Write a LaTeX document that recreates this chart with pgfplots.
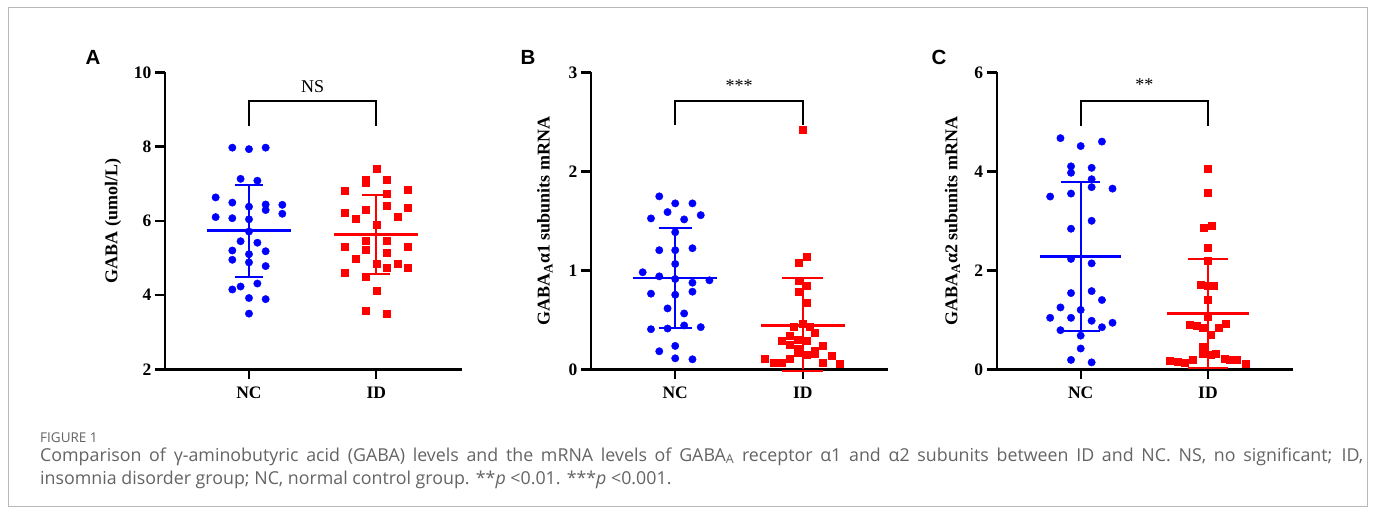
\documentclass[border=0pt]{standalone}
\usepackage{pgfplots}
\pgfplotsset{compat=1.18}
\usepackage{fontspec}
\setmainfont{Liberation Serif}
\newfontfamily\arialfont{Liberation Sans}
\newfontfamily\capfont{Open Sans}
\definecolor{ptblue}{RGB}{0,0,255}
\definecolor{ptred}{RGB}{255,0,0}
\definecolor{capgray}{RGB}{100,100,100}

\pgfplotsset{
  dotplot/.style={
    scale only axis,
    anchor=south west,
    height=297pt, width=296.5pt,
    axis lines=left,
    axis line style={line width=2.4pt, -},
    tick style={line width=2.4pt, black},
    major tick length=10pt,
    tick align=outside,
    xmin=-0.66, xmax=1.67,
    xtick={0,1}, xticklabels={NC,ID},
    ticklabel style={font=\bfseries\fontsize{17.5}{17.5}\selectfont},
    xticklabel style={yshift=-4pt},
    /pgf/number format/assume math mode=true,
    ylabel style={font=\bfseries\fontsize{18}{18}\selectfont, anchor=center},
    clip=false,
  },
  nc/.style={only marks, mark=*, mark size=3.7pt, color=ptblue},
  id/.style={only marks, mark=square*, mark size=3.5pt, color=ptred},
  bar/.style={line width=2pt},
  meanl/.style={line width=2.8pt},
}

\begin{document}
\begin{tikzpicture}
\useasboundingbox (0,0) rectangle (1375pt,-513pt);
\fill[white] (0,0) rectangle (1375pt,-513pt);
\draw[black!28, line width=1pt] (8pt,-7.3pt) rectangle (1367pt,-506pt);

\node[font=\arialfont\bfseries\fontsize{20.5}{20.5}\selectfont] at (93pt,-57pt) {A};
\node[font=\arialfont\bfseries\fontsize{20.5}{20.5}\selectfont] at (528pt,-57pt) {B};
\node[font=\arialfont\bfseries\fontsize{20.5}{20.5}\selectfont] at (939pt,-57pt) {C};

% ---- A
\begin{axis}[dotplot, at={(165pt,-369.3pt)},
  ymin=2, ymax=10, ytick={2,4,6,8,10},
  ylabel={GABA (umol/L)},
  ylabel style={at={(axis description cs:-0.175,0.5)}}]
\addplot[nc] coordinates {
 (-0.131,7.97) (0,7.93) (0.131,7.97) (-0.066,7.13) (0.066,7.08)
 (-0.262,6.63) (-0.131,6.49) (0,6.38) (0.131,6.44) (0.131,6.29)
 (0.262,6.43) (0.262,6.19) (-0.262,6.10) (-0.131,6.07) (0,6.04)
 (0,5.71) (-0.066,5.45) (0.066,5.41) (-0.131,5.20) (0.131,5.18)
 (0,5.10) (-0.131,4.95) (0,4.88) (0.131,4.78) (-0.131,4.15)
 (-0.066,4.23) (0.066,4.31) (0,3.92) (0.131,3.89) (0,3.50)};
\addplot[id] coordinates {
 (1,7.41) (0.916,7.10) (0.916,7.03) (1.084,7.12) (0.75,6.80)
 (1.25,6.84) (1.084,6.74) (1.084,6.41) (1.25,6.36) (0.75,6.23)
 (0.916,6.31) (0.835,6.06) (1.168,6.10) (1,5.89) (0.916,5.47)
 (1.084,5.47) (0.75,5.31) (1.25,5.29) (0.916,5.23) (1.084,5.15)
 (0.835,4.98) (1,4.84) (1.084,4.73) (1.168,4.84) (1.25,4.74)
 (0.75,4.60) (0.916,4.50) (1,4.12) (0.916,3.57) (1.084,3.49)};
% mean and SD
\addplot[ptblue, meanl] coordinates {(-0.33,5.73) (0.33,5.73)};
\addplot[ptblue, bar] coordinates {(0,4.49) (0,6.96)};
\addplot[ptblue, bar] coordinates {(-0.11,6.96) (0.11,6.96)};
\addplot[ptblue, bar] coordinates {(-0.11,4.49) (0.11,4.49)};
\addplot[ptred, meanl] coordinates {(0.67,5.63) (1.33,5.63)};
\addplot[ptred, bar] coordinates {(1,4.56) (1,6.70)};
\addplot[ptred, bar] coordinates {(0.89,6.70) (1.11,6.70)};
\addplot[ptred, bar] coordinates {(0.89,4.56) (1.11,4.56)};
\draw[line width=2.4pt] (axis cs:0,8.55) -- (axis cs:0,9.23) -- (axis cs:1,9.23) -- (axis cs:1,8.55);
\node[font=\fontsize{18}{18}\selectfont] at (axis cs:0.5,9.62) {NS};
\end{axis}

% ---- B
\begin{axis}[dotplot, at={(591pt,-369.3pt)}, width=297.3pt,
  ymin=0, ymax=3, ytick={0,1,2,3},
  ylabel={GABA\raisebox{-0.35ex}{\fontsize{13}{13}\selectfont A}α1 subunits mRNA},
  ylabel style={at={(axis description cs:-0.155,0.5)}}]
\addplot[nc] coordinates {
 (-0.125,1.747) (0,1.676) (0.135,1.676) (-0.06,1.588) (-0.19,1.524)
 (0.07,1.514) (0.2,1.557) (0,1.385) (-0.125,1.203) (0,1.203)
 (0.135,1.223) (0,1.064) (-0.255,0.98) (-0.125,0.939) (0,0.912)
 (0.135,0.875) (0.268,0.899) (-0.19,0.764) (0,0.753) (0.135,0.784)
 (-0.06,0.615) (0.07,0.564) (-0.19,0.405) (-0.06,0.412) (0.07,0.443)
 (0.2,0.426) (-0.125,0.182) (0,0.236) (0,0.111) (0.135,0.101)};
\addplot[id] coordinates {
 (1,2.419) (1.03,1.135) (0.97,1.074) (0.97,0.898) (1.03,0.847)
 (0.97,0.78) (1.03,0.675) (0.93,0.426) (1.0,0.459) (1.055,0.432)
 (1.094,0.371) (0.898,0.337) (0.833,0.29) (0.963,0.304) (1.029,0.29)
 (0.898,0.246) (1.159,0.236) (0.963,0.213) (0.963,0.165) (1.029,0.152)
 (1.094,0.19) (1.094,0.16) (1.224,0.135) (0.703,0.111) (0.768,0.071)
 (0.833,0.071) (0.898,0.111) (1.159,0.067) (1.289,0.054)};
\addplot[ptblue, meanl] coordinates {(-0.33,0.922) (0.33,0.922)};
\addplot[ptblue, bar] coordinates {(0,0.42) (0,1.43)};
\addplot[ptblue, bar] coordinates {(-0.13,1.43) (0.13,1.43)};
\addplot[ptblue, bar] coordinates {(-0.13,0.42) (0.13,0.42)};
\addplot[ptred, meanl] coordinates {(0.67,0.439) (1.33,0.439)};
\addplot[ptred, bar] coordinates {(1,0) (1,0.922)};
\addplot[ptred, bar] coordinates {(0.84,0.922) (1.16,0.922)};
\addplot[ptred, bar] coordinates {(0.84,-0.015) (1.16,-0.015)};
\draw[line width=2.4pt] (axis cs:0,2.466) -- (axis cs:0,2.713) -- (axis cs:1,2.713) -- (axis cs:1,2.466);
\node[font=\fontsize{18}{18}\selectfont] at (axis cs:0.5,2.87) {***};
\end{axis}

% ---- C
\begin{axis}[dotplot, at={(996.7pt,-369.3pt)},
  ymin=0, ymax=6, ytick={0,2,4,6},
  ylabel={GABA\raisebox{-0.35ex}{\fontsize{13}{13}\selectfont A}α2 subunits mRNA},
  ylabel style={at={(axis description cs:-0.149,0.5)}}]
\addplot[nc] coordinates {
 (-0.159,4.67) (0.167,4.60) (0,4.51) (-0.076,4.10) (-0.076,3.97)
 (0.086,4.07) (0.086,3.84) (0.086,3.68) (0.25,3.65) (-0.24,3.49)
 (-0.076,3.55) (0.086,3.00) (-0.076,2.84) (-0.076,2.23) (0.086,2.14)
 (-0.076,1.54) (0.086,1.58) (0.167,1.40) (-0.159,1.25) (0,1.20)
 (-0.24,1.04) (-0.076,1.04) (0.086,0.98) (0.25,0.94) (0.167,0.85)
 (-0.159,0.79) (0,0.68) (0,0.42) (-0.076,0.19) (0.086,0.14)};
\addplot[id] coordinates {
 (1,4.05) (1,3.56) (0.967,2.86) (1.026,2.91) (1,2.46)
 (1,2.19) (0.94,1.70) (1.0,1.68) (1.045,1.68) (1,1.40)
 (1,1.06) (0.857,0.895) (0.909,0.875) (0.955,0.85) (1.085,0.85)
 (1.143,0.93) (1.02,0.69) (0.955,0.457) (0.955,0.31) (1.02,0.29)
 (1.06,0.31) (1.13,0.22) (0.70,0.175) (0.766,0.148) (0.818,0.14)
 (0.877,0.19) (1.169,0.19) (1.228,0.19) (1.293,0.12)};
\addplot[ptblue, meanl] coordinates {(-0.32,2.28) (0.32,2.28)};
\addplot[ptblue, bar] coordinates {(0,0.77) (0,3.78)};
\addplot[ptblue, bar] coordinates {(-0.155,3.78) (0.155,3.78)};
\addplot[ptblue, bar] coordinates {(-0.155,0.77) (0.155,0.77)};
\addplot[ptred, meanl] coordinates {(0.68,1.13) (1.32,1.13)};
\addplot[ptred, bar] coordinates {(1,0.03) (1,2.23)};
\addplot[ptred, bar] coordinates {(0.84,2.23) (1.16,2.23)};
\addplot[ptred, bar] coordinates {(0.84,0.03) (1.16,0.03)};
\draw[line width=2.4pt] (axis cs:0,4.92) -- (axis cs:0,5.42) -- (axis cs:1,5.42) -- (axis cs:1,4.92);
\node[font=\fontsize{18}{18}\selectfont] at (axis cs:0.5,5.76) {**};
\end{axis}

% caption
\node[anchor=base west, inner sep=0pt, text=capgray, font=\capfont\fontsize{13.5}{13.5}\selectfont] at (40pt,-442pt) {FIGURE 1};
\node[anchor=base west, inner sep=0pt, text=capgray, font=\capfont\fontsize{17.8}{17.8}\selectfont] at (40pt,-461pt)
 {\makebox[1323pt][s]{Comparison of γ-aminobutyric acid (GABA) levels and the mRNA levels of GABA\textsubscript{A} receptor α1 and α2 subunits between ID and NC. NS, no significant; ID,}};
\node[anchor=base west, inner sep=0pt, text=capgray, font=\capfont\fontsize{17.8}{17.8}\selectfont] at (40pt,-484pt)
 {insomnia disorder group; NC, normal control group. **\textit{p} <0.01. ***\textit{p} <0.001.};
\end{tikzpicture}
\end{document}
